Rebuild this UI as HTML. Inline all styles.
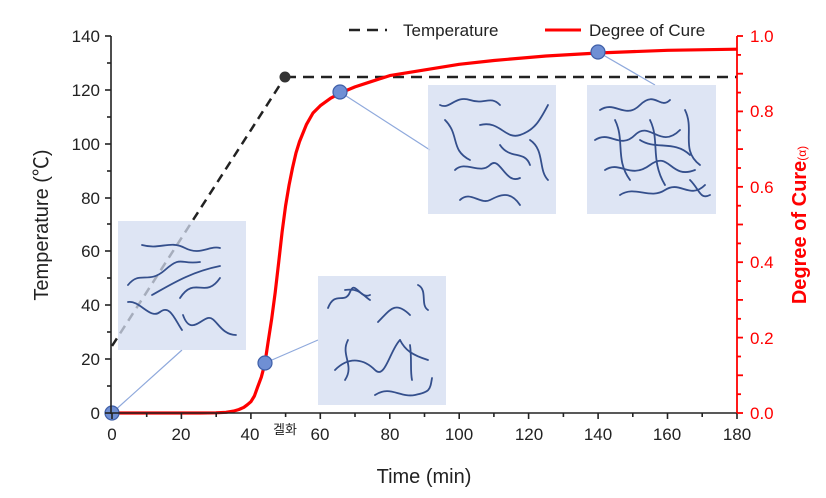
<!DOCTYPE html>
<html><head><meta charset="utf-8"><style>
html,body{margin:0;padding:0;background:#fff;}
svg{display:block;font-family:"Liberation Sans","Noto Sans CJK KR",sans-serif;}
</style></head><body>
<svg width="826" height="498" viewBox="0 0 826 498" xmlns="http://www.w3.org/2000/svg">
<!-- temperature -->
<polyline points="112,346 285,77" fill="none" stroke="#222" stroke-width="2.5" stroke-dasharray="9,6"/>
<line x1="285" y1="77" x2="737" y2="77" stroke="#222" stroke-width="2.5" stroke-dasharray="11,7"/>
<circle cx="285" cy="77" r="5.5" fill="#333"/>
<!-- cure -->
<polyline points="112,413 200,413 216,412.8 226,412.3 233.5,411.1 239,409.5 243.9,407.3 247.4,404.7 250.9,401.7 254.4,396 257.8,386.6 261.3,377.2 264.8,364 268.2,341.4 271.7,318.8 275.2,292.4 278.7,262.2 282.1,232 285.6,205.7 289.1,184.9 292.5,168 296,152.9 299.5,141.6 306.4,124.6 313,113 320.3,105.7 330.7,98.2 341.2,92.6 355,86.9 372.4,81.2 389.8,75.6 424.5,69.9 459.2,64.3 493.9,60.5 546,56 598.1,53 667.5,50.3 737,49.2" fill="none" stroke="#f00" stroke-width="3.2" stroke-linejoin="round"/>
<!-- connectors -->
<g stroke="#8fa9dc" stroke-width="1.2">
<line x1="112" y1="413" x2="182" y2="350"/>
<line x1="265" y1="363" x2="318" y2="340"/>
<line x1="340" y1="92" x2="430" y2="150"/>
<line x1="598" y1="52" x2="655" y2="85"/>
</g>
<!-- boxes -->
<g fill="#d3dcf0" fill-opacity="0.75">
<rect x="118" y="221" width="128" height="129"/>
<rect x="318" y="276" width="128" height="129"/>
<rect x="428" y="85" width="128" height="129"/>
<rect x="587" y="85" width="129" height="129"/>
</g>
<g fill="none" stroke="#344f8c" stroke-width="1.8" stroke-linecap="round">
<path d="M142,245 C160,250 170,240 185,248 S210,245 220,248"/>
<path d="M128,285 C140,270 148,285 165,270 S180,265 200,262"/>
<path d="M152,295 C170,285 190,272 220,266"/>
<path d="M180,298 C195,275 205,300 220,278"/>
<path d="M128,302 C140,300 150,320 160,312 S175,320 182,330"/>
<path d="M183,315 C190,335 200,320 208,318 S220,335 236,335"/>
<path d="M328,308 C335,290 345,305 350,292 S360,300 370,295"/>
<path d="M345,290 C360,288 362,295 370,300"/>
<path d="M378,322 C390,310 395,300 410,315"/>
<path d="M418,285 C428,290 420,305 428,310"/>
<path d="M348,340 C340,355 355,365 345,380"/>
<path d="M335,370 C350,355 365,360 375,370 S390,350 400,340"/>
<path d="M400,340 C405,350 412,355 428,360"/>
<path d="M410,345 C412,360 410,370 412,380"/>
<path d="M375,395 C390,385 400,398 415,395 S430,390 432,378"/>
<path d="M440,105 C450,110 455,95 470,100 S490,95 500,105"/>
<path d="M445,120 C460,135 450,150 470,160"/>
<path d="M480,125 C500,120 505,140 520,135 S540,120 548,105"/>
<path d="M455,170 C465,160 480,175 490,165 S505,185 520,178"/>
<path d="M500,145 C510,160 525,150 530,165"/>
<path d="M530,140 C545,150 538,170 548,180"/>
<path d="M460,200 C470,190 480,205 490,200 S510,190 520,205"/>
<path d="M600,110 C615,100 625,120 640,105 S660,110 670,100"/>
<path d="M595,140 C610,130 620,150 635,135 S660,150 680,130"/>
<path d="M605,170 C620,160 630,180 650,165 S670,180 695,170"/>
<path d="M620,195 C635,185 650,200 665,190 S690,200 705,185"/>
<path d="M615,120 C625,140 615,160 630,180"/>
<path d="M650,120 C660,140 650,160 665,185"/>
<path d="M685,110 C695,130 680,150 700,165"/>
<path d="M640,140 C655,150 675,140 690,155"/>
<path d="M690,180 C700,190 700,200 710,195"/>
</g>
<!-- markers -->
<g fill="#6f8fd4" stroke="#3f5fa8" stroke-width="1.2">
<circle cx="112" cy="413" r="7"/>
<circle cx="265" cy="363" r="7"/>
<circle cx="340" cy="92" r="7"/>
<circle cx="598" cy="52" r="7"/>
</g>
<!-- axes -->
<g stroke="#222" stroke-width="1.6">
<line x1="111" y1="36" x2="111" y2="414"/>
<line x1="111" y1="413" x2="737" y2="413"/>
<line x1="105" y1="36" x2="111" y2="36"/><line x1="107" y1="63" x2="111" y2="63"/>
<line x1="105" y1="90" x2="111" y2="90"/><line x1="107" y1="117" x2="111" y2="117"/>
<line x1="105" y1="144" x2="111" y2="144"/><line x1="107" y1="171" x2="111" y2="171"/>
<line x1="105" y1="198" x2="111" y2="198"/><line x1="107" y1="224" x2="111" y2="224"/>
<line x1="105" y1="251" x2="111" y2="251"/><line x1="107" y1="278" x2="111" y2="278"/>
<line x1="105" y1="305" x2="111" y2="305"/><line x1="107" y1="332" x2="111" y2="332"/>
<line x1="105" y1="359" x2="111" y2="359"/><line x1="107" y1="386" x2="111" y2="386"/>
<line x1="105" y1="413" x2="111" y2="413"/>
<line x1="112" y1="413" x2="112" y2="419"/><line x1="146.7" y1="413" x2="146.7" y2="417"/>
<line x1="181.4" y1="413" x2="181.4" y2="419"/><line x1="216.2" y1="413" x2="216.2" y2="417"/>
<line x1="250.9" y1="413" x2="250.9" y2="419"/><line x1="285.6" y1="413" x2="285.6" y2="417"/>
<line x1="320.3" y1="413" x2="320.3" y2="419"/><line x1="355" y1="413" x2="355" y2="417"/>
<line x1="389.8" y1="413" x2="389.8" y2="419"/><line x1="424.5" y1="413" x2="424.5" y2="417"/>
<line x1="459.2" y1="413" x2="459.2" y2="419"/><line x1="493.9" y1="413" x2="493.9" y2="417"/>
<line x1="528.6" y1="413" x2="528.6" y2="419"/><line x1="563.4" y1="413" x2="563.4" y2="417"/>
<line x1="598.1" y1="413" x2="598.1" y2="419"/><line x1="632.8" y1="413" x2="632.8" y2="417"/>
<line x1="667.5" y1="413" x2="667.5" y2="419"/><line x1="702.2" y1="413" x2="702.2" y2="417"/>
<line x1="737" y1="413" x2="737" y2="419"/>
</g>
<g stroke="#f00" stroke-width="1.8">
<line x1="737" y1="36" x2="737" y2="413"/>
<line x1="737" y1="36" x2="743" y2="36"/><line x1="737" y1="54.9" x2="741" y2="54.9"/>
<line x1="737" y1="73.7" x2="743" y2="73.7"/><line x1="737" y1="92.6" x2="741" y2="92.6"/>
<line x1="737" y1="111.4" x2="743" y2="111.4"/><line x1="737" y1="130.3" x2="741" y2="130.3"/>
<line x1="737" y1="149.1" x2="743" y2="149.1"/><line x1="737" y1="168" x2="741" y2="168"/>
<line x1="737" y1="186.8" x2="743" y2="186.8"/><line x1="737" y1="205.7" x2="741" y2="205.7"/>
<line x1="737" y1="224.5" x2="743" y2="224.5"/><line x1="737" y1="243.4" x2="741" y2="243.4"/>
<line x1="737" y1="262.2" x2="743" y2="262.2"/><line x1="737" y1="281.1" x2="741" y2="281.1"/>
<line x1="737" y1="299.9" x2="743" y2="299.9"/><line x1="737" y1="318.8" x2="741" y2="318.8"/>
<line x1="737" y1="337.6" x2="743" y2="337.6"/><line x1="737" y1="356.5" x2="741" y2="356.5"/>
<line x1="737" y1="375.3" x2="743" y2="375.3"/><line x1="737" y1="394.2" x2="741" y2="394.2"/>
<line x1="737" y1="413" x2="743" y2="413"/>
</g>
<!-- labels -->
<g font-size="17" fill="#222" text-anchor="end">
<text x="100" y="42">140</text><text x="100" y="96">120</text><text x="100" y="150">100</text>
<text x="100" y="204">80</text><text x="100" y="257">60</text><text x="100" y="311">40</text>
<text x="100" y="365">20</text><text x="100" y="419">0</text>
</g>
<g font-size="17" fill="#222" text-anchor="middle">
<text x="112" y="440">0</text><text x="181" y="440">20</text><text x="250" y="440">40</text>
<text x="320" y="440">60</text><text x="390" y="440">80</text><text x="459" y="440">100</text>
<text x="529" y="440">120</text><text x="598" y="440">140</text><text x="667" y="440">160</text>
<text x="737" y="440">180</text>
</g>
<text x="285" y="434" font-size="13" fill="#222" text-anchor="middle">겔화</text>
<g font-size="17" fill="#f00">
<text x="750" y="42">1.0</text><text x="750" y="117">0.8</text><text x="750" y="193">0.6</text>
<text x="750" y="268">0.4</text><text x="750" y="344">0.2</text><text x="750" y="419">0.0</text>
</g>
<text x="424" y="483" font-size="20" fill="#222" text-anchor="middle">Time (min)</text>
<text transform="translate(48,225) rotate(-90)" font-size="20" fill="#222" text-anchor="middle">Temperature (℃)</text>
<text transform="translate(806,225) rotate(-90)" font-size="20" fill="#f00" text-anchor="middle" font-weight="bold">Degree of Cure<tspan font-size="12" font-weight="normal">(α)</tspan></text>
<!-- legend -->
<line x1="349" y1="30" x2="387" y2="30" stroke="#222" stroke-width="2.5" stroke-dasharray="11,7"/>
<text x="403" y="36" font-size="17" fill="#222">Temperature</text>
<line x1="545" y1="30" x2="581" y2="30" stroke="#f00" stroke-width="3"/>
<text x="589" y="36" font-size="17" fill="#222">Degree of Cure</text>
</svg>
</body></html>
